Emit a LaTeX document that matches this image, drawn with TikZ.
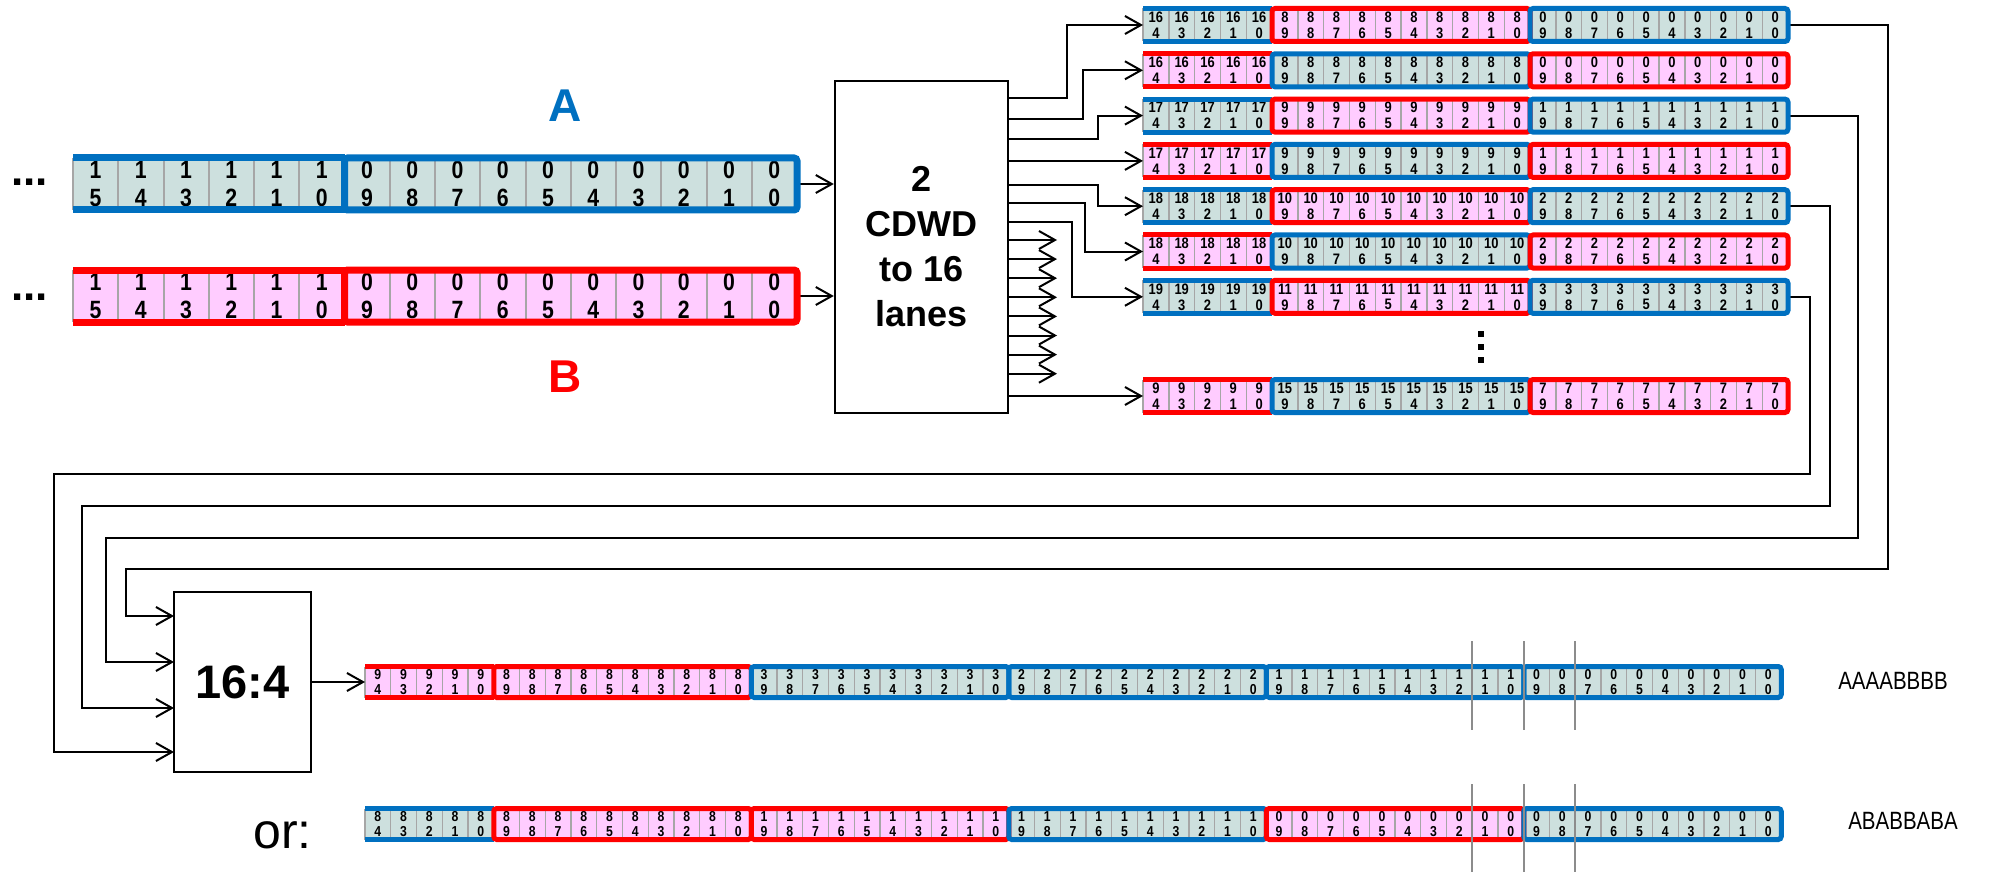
\documentclass[tikz,border=0pt]{standalone}
\usepackage{fontspec}
\setmainfont{Liberation Sans}
\newfontfamily\narrowfont[FakeStretch=0.85]{Liberation Sans}
\newfontfamily\labfont[FakeStretch=0.82]{Liberation Sans}
\usetikzlibrary{arrows.meta}
\pgfdeclarelayer{front}
\pgfsetlayers{main,front}
\definecolor{ablue}{HTML}{0070C0}
\definecolor{bred}{HTML}{FF0000}
\definecolor{afill}{HTML}{CDE0DE}
\definecolor{bfill}{HTML}{FFCCFF}
\definecolor{divgray}{HTML}{A6A6A6}
\definecolor{vgray}{HTML}{8C8C8C}
\tikzset{
  x=0.5pt, y=-0.5pt,
  conn/.style={line width=1pt, line join=miter, -{Straight Barb[length=8pt,width=9pt,line width=1pt]}},
  blockbox/.style={draw, line width=1.2pt, align=center, inner sep=0pt},
  fillA/.style={fill=afill}, fillB/.style={fill=bfill},
  frameA/.style={draw=ablue, line width=\fw, rounded corners=1.5pt},
  frameB/.style={draw=bred, line width=\fw, rounded corners=1.5pt},
  stripA/.style={draw=ablue, line width=\fw},
  stripB/.style={draw=bred, line width=\fw},
  divider/.style={draw=divgray, line width=\dw},
  cellnum/.style={font=\cellfont, inner sep=0pt},
  vline/.style={draw=vgray, line width=1pt},
}
% cell width, height, frame width, divider width, font, line spacing
\newcommand\rowset[6]{\def\cw{#1}\def\ch{#2}\def\fw{#3}\def\dw{#4}\def\cellfont{#5}\def\ls{#6}}
\newcommand\cgroup[7]{%
  \fill[fill#6] ({#2},{#3-\ch/2}) rectangle ({#2+#4*\cw},{#3+\ch/2});
  \foreach \i in {0,...,#4}{\draw[divider] ({#2+\i*\cw},{#3-\ch/2}) -- ({#2+\i*\cw},{#3+\ch/2});}
  \foreach \i in {1,...,#4}{%
    \pgfmathtruncatemacro\d{#4-\i}%
    \node[cellnum] (#1-\i-t) at ({#2+(\i-0.5)*\cw},{#3-\ls/2}) {#5};
    \node[cellnum] (#1-\i-b) at ({#2+(\i-0.5)*\cw},{#3+\ls/2}) {\d};
  }
  \begin{pgfonlayer}{front}
  \ifx F#7
    \draw[frame#6] ({#2},{#3-\ch/2}) rectangle ({#2+#4*\cw},{#3+\ch/2});
  \else
    \draw[strip#6] ({#2},{#3-\ch/2}) -- ({#2+#4*\cw},{#3-\ch/2});
    \draw[strip#6] ({#2},{#3+\ch/2}) -- ({#2+#4*\cw},{#3+\ch/2});
  \fi
  \end{pgfonlayer}%
}
\newcommand\toprow[8]{%
  \cgroup{#1a}{1143}{#2}{5}{#3}{#4}{P}
  \cgroup{#1b}{1143+5*25.8}{#2}{10}{#5}{#6}{F}
  \cgroup{#1c}{1143+15*25.8}{#2}{10}{#7}{#8}{F}
  \coordinate (#1w) at (1143,#2);
  \coordinate (#1e) at (1788,#2);
}
\begin{document}
\begin{tikzpicture}
\useasboundingbox (0,0) rectangle (2010,872);

% ---- input buses A and B
\rowset{45.25}{52}{3.5pt}{1pt}{\narrowfont\bfseries\fontsize{12.5}{14}\selectfont}{28}
\cgroup{Aa}{73}{184}{6}{1}{A}{P}
\cgroup{Ab}{73+6*45.25}{184}{10}{0}{A}{F}
\cgroup{Ba}{73}{296}{6}{1}{B}{P}
\cgroup{Bb}{73+6*45.25}{296}{10}{0}{B}{F}
\coordinate (Ae) at (797,184);
\coordinate (Be) at (797,296);
\node[font=\bfseries\fontsize{22}{22}\selectfont, anchor=base west, inner sep=0pt] (dotsA) at (11,185) {...};
\node[font=\bfseries\fontsize{22}{22}\selectfont, anchor=base west, inner sep=0pt] (dotsB) at (11,300) {...};
\node[font=\bfseries\fontsize{23}{23}\selectfont, text=ablue] (labA) at (565,106) {A};
\node[font=\bfseries\fontsize{23}{23}\selectfont, text=bred] (labB) at (565,377) {B};

% ---- CDWD block
\node[blockbox, minimum width=86.5pt, minimum height=166pt, font=\bfseries\fontsize{18}{22.5}\selectfont] (cdwd) at (921.5,247) {2\\CDWD\\to 16\\lanes};
\draw[conn] (Ae) -- (Ae -| cdwd.west);
\draw[conn] (Be) -- (Be -| cdwd.west);

% ---- lane rows
\rowset{25.8}{33}{2.5pt}{0.7pt}{\narrowfont\bfseries\fontsize{7.6}{8}\selectfont}{16}
\toprow{r1}{25}{16}{A}{8}{B}{0}{A}
\toprow{r2}{70.3}{16}{B}{8}{A}{0}{B}
\toprow{r3}{115.6}{17}{A}{9}{B}{1}{A}
\toprow{r4}{160.9}{17}{B}{9}{A}{1}{B}
\toprow{r5}{206.2}{18}{A}{10}{B}{2}{A}
\toprow{r6}{251.5}{18}{B}{10}{A}{2}{B}
\toprow{r7}{296.8}{19}{A}{11}{B}{3}{A}
\toprow{r8}{396}{9}{B}{15}{A}{7}{B}
\fill (1478,331) rectangle (1484,337);
\fill (1478,344) rectangle (1484,350);
\fill (1478,357) rectangle (1484,363);

% ---- CDWD outputs
\coordinate (o1) at (1008,97.7);
\coordinate (o2) at (1008,119.3);
\coordinate (o3) at (1008,139.3);
\coordinate (o4) at (1008,160.9);
\coordinate (o5) at (1008,185);
\coordinate (o6) at (1008,203.3);
\coordinate (o7) at (1008,222.3);
\coordinate (o16) at (1008,396);
\draw[conn] (o1) -- ++(59,0) |- (r1w);
\draw[conn] (o2) -- ++(75,0) |- (r2w);
\draw[conn] (o3) -- ++(90,0) |- (r3w);
\draw[conn] (o4) -- (r4w);
\draw[conn] (o5) -- ++(90,0) |- (r5w);
\draw[conn] (o6) -- ++(77,0) |- (r6w);
\draw[conn] (o7) -- ++(64,0) |- (r7w);
\draw[conn] (o16) -- (r8w);
\foreach \k in {8,...,15}{
  \coordinate (o\k) at (1008,{240+(\k-8)*19.1});
  \coordinate (t\k) at (1057,{240+(\k-8)*19.1});
  \draw[conn] (o\k) -- (t\k);
}

% ---- 16:4 block
\node[blockbox, minimum width=68.5pt, minimum height=90pt, font=\bfseries\fontsize{23.5}{28}\selectfont] (mux) at (242.5,682) {16:4};
\coordinate (in1) at (174,616);
\coordinate (in2) at (174,662);
\coordinate (in3) at (174,708);
\coordinate (in4) at (174,752);
\draw[conn] (r1e) -| (1888,569) -| (126,616) -- (in1);
\draw[conn] (r3e) -| (1858,538) -| (106,662) -- (in2);
\draw[conn] (r5e) -| (1830,506) -| (82,708) -- (in3);
\draw[conn] (r7e) -| (1810,474) -| (54,752) -- (in4);

% ---- output rows
\rowset{25.75}{31}{2.5pt}{0.7pt}{\narrowfont\bfseries\fontsize{7.2}{7.5}\selectfont}{15}
\cgroup{p1}{365}{682}{5}{9}{B}{P}
\cgroup{p2}{365+5*25.75}{682}{10}{8}{B}{F}
\cgroup{p3}{365+15*25.75}{682}{10}{3}{A}{F}
\cgroup{p4}{365+25*25.75}{682}{10}{2}{A}{F}
\cgroup{p5}{365+35*25.75}{682}{10}{1}{A}{F}
\cgroup{p6}{365+45*25.75}{682}{10}{0}{A}{F}
\coordinate (pw) at (365,682);
\draw[conn] (mux.east) -- (pw);

\cgroup{q1}{365}{824}{5}{8}{A}{P}
\cgroup{q2}{365+5*25.75}{824}{10}{8}{B}{F}
\cgroup{q3}{365+15*25.75}{824}{10}{1}{B}{F}
\cgroup{q4}{365+25*25.75}{824}{10}{1}{A}{F}
\cgroup{q5}{365+35*25.75}{824}{10}{0}{B}{F}
\cgroup{q6}{365+45*25.75}{824}{10}{0}{A}{F}

\begin{pgfonlayer}{front}
\foreach \xx in {1472.25,1523.75,1575.25}{
  \draw[vline] (\xx,641) -- (\xx,730);
  \draw[vline] (\xx,784) -- (\xx,872);
}
\end{pgfonlayer}

\node[font=\labfont\fontsize{12.5}{12.5}\selectfont] (lab1) at (1893,681) {AAAABBBB};
\node[font=\labfont\fontsize{12.5}{12.5}\selectfont] (lab2) at (1903,821) {ABABBABA};
\node[font=\fontsize{25}{25}\selectfont, anchor=base west, inner sep=0pt] (orlbl) at (253,848) {or:};
\end{tikzpicture}
\end{document}
